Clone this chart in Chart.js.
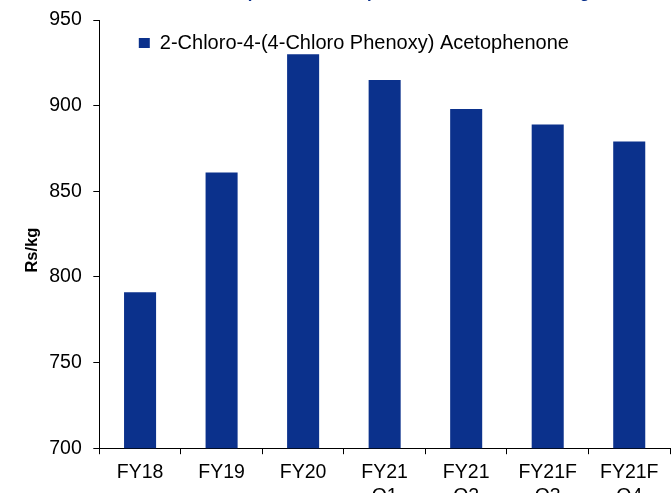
<!DOCTYPE html>
<html>
<head>
<meta charset="utf-8">
<script src="https://cdn.jsdelivr.net/npm/chart.js@4.4.1/dist/chart.umd.min.js"></script>
<style>
    html, body { margin: 0; padding: 0; background: #ffffff; }
    #wrap { position: relative; width: 672px; height: 493px; overflow: hidden; }
    #chart_box { position: absolute; left: 0; top: -16px; width: 672px; height: 531px; }
</style>
</head>
<body>
<div id="wrap"><div id="chart_box"><canvas id="price_chart"></canvas></div></div>
<script>
// chart data
const categories = [["FY18"], ["FY19"], ["FY20"], ["FY21", "Q1"], ["FY21", "Q2"], ["FY21F", "Q3"], ["FY21F", "Q4"]];
const price_values = [791, 861, 930, 915, 898, 889, 879];
const series_name = "2-Chloro-4-(4-Chloro Phenoxy) Acetophenone";
const y_ticks = [700, 750, 800, 850, 900, 950];
const y_title = "Rs/kg";
const chart_title = "Exhibit 14: The Acetophenone sales prices have been weakening";

// style constants
const bar_color = "#0b318c";
const font_family = "'Liberation Sans', Arial, sans-serif";

// puts the legend inside the plot, a bit in from the y axis
const legend_shift = {
    id: "legend_shift",
    afterLayout: (chart) => {
        const area = chart.chartArea;
        const legend = chart.legend;
        const h = legend.height;
        legend.left = area.left + 26.5;
        legend.right = area.right;
        legend.top = area.top;
        legend.bottom = area.top + h;
    }
};

const price_chart = new Chart("price_chart", {
    type: "bar",
    data: {
        labels: categories,
        datasets: [{
            label: series_name,
            data: price_values,
            backgroundColor: bar_color,
            barPercentage: 0.393,
            categoryPercentage: 1
        }]
    },
    plugins: [legend_shift],
    options: {
        animation: false,
        responsive: true,
        maintainAspectRatio: false,
        layout: { padding: { left: 0, right: 2, top: 0, bottom: 0 } },
        plugins: {
            title: {
                display: true,
                text: chart_title,
                color: bar_color,
                font: { family: font_family, size: 16.5, weight: "bold" },
                padding: { top: 0, bottom: 16.2 }
            },
            legend: {
                display: true,
                position: "chartArea",
                align: "start",
                labels: {
                    color: "#000000",
                    boxWidth: 11,
                    boxHeight: 10,
                    padding: 13,
                    font: { family: font_family, size: 20 }
                }
            },
            tooltip: { enabled: false }
        },
        scales: {
            x: {
                grid: {
                    display: true,
                    drawOnChartArea: false,
                    drawTicks: true,
                    tickLength: 6,
                    color: "#000000"
                },
                border: { display: true, color: "#000000", width: 1 },
                ticks: {
                    color: "#000000",
                    padding: 7,
                    maxRotation: 0,
                    autoSkip: false,
                    font: { family: font_family, size: 19.5 }
                }
            },
            y: {
                min: y_ticks[0],
                max: y_ticks[y_ticks.length - 1],
                afterFit: (scale) => { scale.width = 99.3; },
                grid: {
                    display: true,
                    drawOnChartArea: false,
                    drawTicks: true,
                    tickLength: 6,
                    color: "#000000"
                },
                border: { display: true, color: "#000000", width: 1 },
                ticks: {
                    stepSize: 50,
                    color: "#000000",
                    padding: 11.5,
                    font: { family: font_family, size: 19.5 }
                },
                title: {
                    display: true,
                    text: y_title + "       ",
                    color: "#000000",
                    padding: { top: 23, bottom: 4 },
                    font: { family: font_family, size: 16.5, weight: "bold" }
                }
            }
        }
    }
});
</script>
</body>
</html>
